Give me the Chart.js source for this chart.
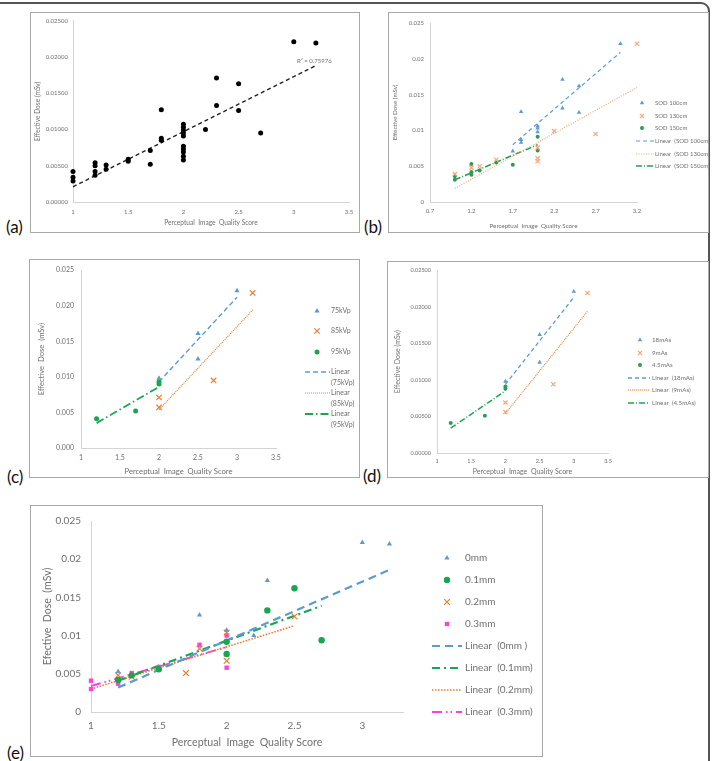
<!DOCTYPE html>
<html>
<head>
<meta charset="utf-8">
<script src="https://cdn.jsdelivr.net/npm/chart.js@4.4.1/dist/chart.umd.min.js"></script>
<style>
  html, body { margin: 0; padding: 0; background: #fff; }
  body { width: 720px; height: 761px; position: relative; overflow: hidden; font-family: Lato, "Open Sans", sans-serif; }
  #frame { position: absolute; left: -12px; top: 2px; width: 718px; height: 800px; border: 2px solid #555; border-radius: 9px; }
  .box { position: absolute; outline: 1px solid #a9a9a9; outline-offset: -1px; }
  .box canvas { position: absolute; left: 0; top: 0; }
  .tag { position: absolute; font-size: 17px; color: #111; line-height: 1; }
</style>
</head>
<body>
<div id="frame"></div>

<div class="box" style="left:30px;top:12px;width:330px;height:221px"><canvas id="cA" width="330" height="221"></canvas></div>
<div class="box" style="left:388px;top:12px;width:321px;height:221px"><canvas id="cB" width="321" height="221"></canvas></div>
<div class="box" style="left:29px;top:259px;width:331px;height:219px"><canvas id="cC" width="331" height="219"></canvas></div>
<div class="box" style="left:387px;top:261px;width:322px;height:217px"><canvas id="cD" width="322" height="217"></canvas></div>
<div class="box" style="left:30px;top:505px;width:513px;height:252px"><canvas id="cE" width="513" height="252"></canvas></div>

<div class="tag" style="left:6px;top:218px">(a)</div>
<div class="tag" style="left:364px;top:218px">(b)</div>
<div class="tag" style="left:7px;top:468px">(c)</div>
<div class="tag" style="left:363px;top:467px">(d)</div>
<div class="tag" style="left:7px;top:744px">(e)</div>

<script>
// ---------- colours / fonts ----------
const FONT = 'Lato, "Open Sans", sans-serif';
const TXT = '#6f6f6f';
const AXIS = '#d4d4d4';
const BLUE = '#5b9bd5';
const ORANGE = '#ed7d31';
const GREEN = '#19a651';
const DGREEN = '#2f9a55';
const PINK = '#ff3fe0';

// ---------- data: (a) all readings ----------
const A_X = [1, 1, 1, 1.2, 1.2, 1.2, 1.2, 1.3, 1.3, 1.5, 1.5, 1.7, 1.7, 1.8, 1.8, 1.8,
             2, 2, 2, 2, 2, 2, 2, 2, 2, 2, 2.2, 2.3, 2.3, 2.5, 2.5, 2.7, 3, 3.2];
const A_Y = [0.0042, 0.0034, 0.0029, 0.0054, 0.0050, 0.0042, 0.0037, 0.0051, 0.0045, 0.0059, 0.0056,
             0.0071, 0.0052, 0.0127, 0.0088, 0.0085,
             0.0107, 0.0103, 0.0099, 0.0095, 0.0091, 0.0077, 0.0073, 0.0069, 0.0063, 0.0058,
             0.0100, 0.0171, 0.0133, 0.0163, 0.0126, 0.0095, 0.0221, 0.0219];
const A_FIT_X = [1, 3.2];
const A_FIT_Y = [0.0021, 0.0188];
const A_XTICKS = [1, 1.5, 2, 2.5, 3, 3.5];
const A_YTICKS = [0, 0.005, 0.01, 0.015, 0.02, 0.025];
const A_YLABELS = ['0.00000', '0.00500', '0.01000', '0.01500', '0.02000', '0.02500'];

// ---------- data: (b) by SOD ----------
const B_100_X = [1.7, 1.8, 1.8, 1.8, 2, 2, 2, 2.3, 2.3, 2.5, 2.5, 3];
const B_100_Y = [0.0071, 0.0087, 0.0083, 0.0126, 0.0106, 0.0103, 0.0098, 0.0171, 0.0131, 0.0162, 0.0125, 0.0221];
const B_130_X = [1, 1.2, 1.3, 1.5, 2, 2, 2, 2.2, 2.7, 3.2];
const B_130_Y = [0.0039, 0.0048, 0.0050, 0.0059, 0.0076, 0.0061, 0.0057, 0.0099, 0.0095, 0.0221];
const B_150_X = [1, 1, 1.2, 1.2, 1.2, 1.3, 1.5, 1.7, 2, 2];
const B_150_Y = [0.0036, 0.0031, 0.0053, 0.0042, 0.0038, 0.0044, 0.0055, 0.0052, 0.0091, 0.0072];
const B_FIT100_X = [1.7, 3], B_FIT100_Y = [0.0080, 0.0209];
const B_FIT130_X = [1, 3.2], B_FIT130_Y = [0.0019, 0.0160];
const B_FIT150_X = [1, 2],   B_FIT150_Y = [0.0031, 0.0080];
const B_XTICKS = [0.7, 1.2, 1.7, 2.2, 2.7, 3.2];
const B_XLABELS = ['0.7', '1.2', '1.7', '2.2', '2.7', '3.2'];
const B_YLABELS = ['0', '0.005', '0.01', '0.015', '0.02', '0.025'];

// ---------- data: (c) by kVp ----------
const C_75_X = [2, 2.5, 2.5, 3],   C_75_Y = [0.0098, 0.0161, 0.0125, 0.0221];
const C_85_X = [2, 2, 2.7, 3.2],   C_85_Y = [0.0071, 0.0057, 0.0095, 0.0218];
const C_95_X = [1.2, 1.7, 2, 2],   C_95_Y = [0.0041, 0.0052, 0.0093, 0.0090];
const C_FIT75_X = [2, 3],   C_FIT75_Y = [0.0093, 0.0212];
const C_FIT85_X = [2, 3.2], C_FIT85_Y = [0.0054, 0.0194];
const C_FIT95_X = [1.2, 2], C_FIT95_Y = [0.0035, 0.0086];
const C_YLABELS = ['0.000', '0.005', '0.010', '0.015', '0.020', '0.025'];

// ---------- data: (d) by mAs ----------
const D_18_X = [2, 2.5, 2.5, 3],   D_18_Y = [0.0098, 0.0162, 0.0124, 0.0221];
const D_9_X = [2, 2, 2.7, 3.2],    D_9_Y = [0.0069, 0.0056, 0.0094, 0.0219];
const D_45_X = [1.2, 1.7, 2, 2],   D_45_Y = [0.0041, 0.0051, 0.0091, 0.0088];
const D_FIT18_X = [2, 3],   D_FIT18_Y = [0.0094, 0.0213];
const D_FIT9_X = [2, 3.2],  D_FIT9_Y = [0.0054, 0.0194];
const D_FIT45_X = [1.2, 2], D_FIT45_Y = [0.0034, 0.0085];

// ---------- data: (e) by filtration ----------
const E_0_X = [1.2, 1.8, 2, 2.2, 2.3, 3, 3.2];
const E_0_Y = [0.0053, 0.0127, 0.0107, 0.0100, 0.0172, 0.0222, 0.0220];
const E_1_X = [1.2, 1.3, 1.5, 2, 2, 2.3, 2.5, 2.7];
const E_1_Y = [0.0042, 0.0048, 0.0056, 0.0092, 0.0076, 0.0133, 0.0162, 0.0094];
const E_2_X = [1.2, 1.3, 1.7, 1.8, 2, 2, 2.5];
const E_2_Y = [0.0048, 0.0046, 0.0051, 0.0083, 0.0104, 0.0067, 0.0125];
const E_3_X = [1, 1, 1.2, 1.3, 1.5, 1.8, 2, 2];
const E_3_Y = [0.0041, 0.0030, 0.0037, 0.0051, 0.0059, 0.0088, 0.0100, 0.0058];
const E_FIT0_X = [1.2, 3.2], E_FIT0_Y = [0.0032, 0.0186];
const E_FIT1_X = [1.2, 2.7], E_FIT1_Y = [0.0041, 0.0139];
const E_FIT2_X = [1, 2.5],   E_FIT2_Y = [0.0030, 0.0113];
const E_FIT3_X = [1, 2],     E_FIT3_Y = [0.0034, 0.0085];
const E_XTICKS = [1, 1.5, 2, 2.5, 3];

// ---------- helpers ----------
const el = (id) => document.getElementById(id);
const pts = (xs, ys) => xs.map((x, i) => ({ x, y: ys[i] }));

function dots(label, xs, ys, style, color, r) {
  const cross = style === 'crossRot';
  return {
    label, data: pts(xs, ys), pointStyle: style, pointRadius: r,
    backgroundColor: color, borderColor: color, borderWidth: cross ? 1.2 : 0, clip: false,
  };
}
function fit(label, xs, ys, color, dash, width) {
  return {
    label, data: pts(xs, ys), showLine: true, pointRadius: 0, borderColor: color,
    backgroundColor: color, borderWidth: width, borderDash: dash, fill: false, clip: false,
  };
}

function drawMarker(ctx, style, x, y, r, color) {
  ctx.fillStyle = color;
  ctx.strokeStyle = color;
  ctx.beginPath();
  if (style === 'triangle') {
    ctx.moveTo(x, y - r);
    ctx.lineTo(x + r * 0.866, y + r / 2);
    ctx.lineTo(x - r * 0.866, y + r / 2);
    ctx.closePath(); ctx.fill();
  } else if (style === 'crossRot') {
    const d = r * 0.7;
    ctx.lineWidth = 1.2;
    ctx.moveTo(x - d, y - d); ctx.lineTo(x + d, y + d);
    ctx.moveTo(x + d, y - d); ctx.lineTo(x - d, y + d);
    ctx.stroke();
  } else if (style === 'rect') {
    const s = r * 0.7;
    ctx.fillRect(x - s, y - s, 2 * s, 2 * s);
  } else {
    ctx.arc(x, y, r, 0, Math.PI * 2); ctx.fill();
  }
}

// legend + notes painted on the right of each panel
const sideLegend = {
  id: 'sideLegend',
  afterDraw(chart, args, o) {
    const ctx = chart.ctx;
    ctx.save();
    ctx.font = `${o.size}px ${FONT}`;
    ctx.textBaseline = 'middle';
    ctx.textAlign = 'left';
    if (o.ys) {
      chart.data.datasets.forEach((ds, k) => {
        const y = o.ys[k];
        if (ds.showLine) {
          ctx.strokeStyle = ds.borderColor;
          ctx.lineWidth = ds.borderWidth;
          ctx.setLineDash(ds.borderDash || []);
          ctx.beginPath(); ctx.moveTo(o.line[0], y); ctx.lineTo(o.line[1], y); ctx.stroke();
          ctx.setLineDash([]);
        } else {
          drawMarker(ctx, ds.pointStyle, o.markX, y, ds.pointRadius, ds.backgroundColor);
        }
        ctx.fillStyle = TXT;
        ds.label.split('\n').forEach((t, j) => ctx.fillText(t, o.textX, y + j * o.lh));
      });
    }
    (o.notes || []).forEach(n => { ctx.fillStyle = TXT; ctx.fillText(n.text, n.x, n.y); });
    ctx.restore();
  }
};

function panel(id, cfg) {
  const cv = el(id);
  const W = cv.width, H = cv.height, a = cfg.area;
  const lhX = cfg.titleSize * 1.2;
  return new Chart(cv, {
    type: 'scatter',
    data: { datasets: cfg.datasets },
    options: {
      responsive: false,
      animation: false,
      layout: { padding: { left: 0, top: a.t, right: W - a.r, bottom: 0 } },
      plugins: {
        legend: { display: false },
        tooltip: { enabled: false },
        sideLegend: cfg.legend,
      },
      scales: {
        x: {
          type: 'linear', min: cfg.x[0], max: cfg.x[1],
          afterBuildTicks: s => { s.ticks = cfg.xTicks.map(v => ({ value: v })); },
          afterFit: s => { s.height = H - a.b; },
          grid: { display: false, drawTicks: false },
          border: { display: true, color: AXIS, width: 1 },
          ticks: {
            autoSkip: false, maxRotation: 0, padding: cfg.xPad, color: TXT,
            font: { family: FONT, size: cfg.tickSize },
            callback: (v, i) => cfg.xLabels[i],
          },
          title: {
            display: true, text: 'Perceptual  Image  Quality Score', color: TXT,
            font: { family: FONT, size: cfg.titleSize },
            padding: { top: 0, bottom: H - cfg.xTitleY - lhX / 2 },
          },
        },
        y: {
          type: 'linear', min: 0, max: 0.025,
          afterBuildTicks: s => { s.ticks = A_YTICKS.map(v => ({ value: v })); },
          afterFit: s => { s.width = a.l; },
          grid: { display: false, drawTicks: false },
          border: { display: true, color: AXIS, width: 1 },
          ticks: {
            autoSkip: false, padding: cfg.yPad, color: TXT,
            font: { family: FONT, size: cfg.tickSize },
            callback: (v, i) => cfg.yLabels[i],
          },
          title: {
            display: true, text: cfg.yTitle, color: TXT,
            font: { family: FONT, size: cfg.titleSize },
            padding: { top: cfg.yTitleX - lhX / 2, bottom: 0 },
          },
        },
      },
    },
    plugins: [sideLegend],
  });
}

const X_LABELS_STD = ['1', '1.5', '2', '2.5', '3', '3.5'];

// (a)
panel('cA', {
  area: { l: 43, r: 319, t: 8, b: 190 },
  x: [1, 3.5], xTicks: A_XTICKS, xLabels: X_LABELS_STD, yLabels: A_YLABELS,
  tickSize: 6, titleSize: 6.6, xPad: 6, yPad: 5, xTitleY: 211, yTitleX: 8,
  yTitle: 'Effective Dose (mSv)',
  datasets: [
    dots('all', A_X, A_Y, 'circle', '#000', 2.5),
    fit('trend', A_FIT_X, A_FIT_Y, '#222', [4, 3], 1.4),
  ],
  legend: { size: 6, notes: [{ text: 'R\u00b2 = 0.75976', x: 267, y: 49 }] },
});

// (b)
panel('cB', {
  area: { l: 42, r: 249, t: 11, b: 190 },
  x: [0.7, 3.2], xTicks: B_XTICKS, xLabels: B_XLABELS, yLabels: B_YLABELS,
  tickSize: 6, titleSize: 6.2, xPad: 5, yPad: 6, xTitleY: 214, yTitleX: 7,
  yTitle: 'Effective Dose (mSv)',
  datasets: [
    dots('SOD 100cm', B_100_X, B_100_Y, 'triangle', BLUE, 2.6),
    dots('SOD 130cm', B_130_X, B_130_Y, 'crossRot', '#f4a77a', 3),
    dots('SOD 150cm', B_150_X, B_150_Y, 'circle', DGREEN, 2),
    fit('Linear  (SOD 100cm)', B_FIT100_X, B_FIT100_Y, BLUE, [4, 3], 1.2),
    fit('Linear  (SOD 130cm)', B_FIT130_X, B_FIT130_Y, '#f4a77a', [1, 1.5], 1.2),
    fit('Linear  (SOD 150cm)', B_FIT150_X, B_FIT150_Y, DGREEN, [6, 2, 1, 2], 1.6),
  ],
  legend: { size: 6, ys: [91, 104, 116, 129, 142, 154], markX: 254, textX: 267, line: [248, 266], lh: 8 },
});

// (c)
panel('cC', {
  area: { l: 52, r: 247, t: 7, b: 189 },
  x: [1, 3.5], xTicks: A_XTICKS, xLabels: X_LABELS_STD, yLabels: C_YLABELS,
  tickSize: 7, titleSize: 7.6, xPad: 6, yPad: 7, xTitleY: 213, yTitleX: 13,
  yTitle: 'Effective  Dose  (mSv)',
  datasets: [
    dots('75kVp', C_75_X, C_75_Y, 'triangle', BLUE, 3),
    dots('85kVp', C_85_X, C_85_Y, 'crossRot', ORANGE, 3.8),
    dots('95kVp', C_95_X, C_95_Y, 'circle', GREEN, 2.5),
    fit('Linear\n(75kVp)', C_FIT75_X, C_FIT75_Y, BLUE, [5, 3], 1.4),
    fit('Linear\n(85kVp)', C_FIT85_X, C_FIT85_Y, ORANGE, [1, 1], 1.2),
    fit('Linear\n(95kVp)', C_FIT95_X, C_FIT95_Y, GREEN, [8, 3, 1.5, 3], 1.8),
  ],
  legend: { size: 7, ys: [52, 72, 93, 113, 134, 155], markX: 288, textX: 302, line: [276, 301], lh: 10.5 },
});

// (d)
panel('cD', {
  area: { l: 50, r: 221, t: 6, b: 192 },
  x: [1, 3.5], xTicks: A_XTICKS, xLabels: X_LABELS_STD, yLabels: A_YLABELS,
  tickSize: 5.5, titleSize: 7, xPad: 4.5, yPad: 6, xTitleY: 211, yTitleX: 11,
  yTitle: 'Effective Dose (mSv)',
  datasets: [
    dots('18mAs', D_18_X, D_18_Y, 'triangle', BLUE, 2.6),
    dots('9mAs', D_9_X, D_9_Y, 'crossRot', '#f4a77a', 3),
    dots('4.5mAs', D_45_X, D_45_Y, 'circle', DGREEN, 2),
    fit('Linear  (18mAs)', D_FIT18_X, D_FIT18_Y, BLUE, [4, 3], 1.3),
    fit('Linear  (9mAs)', D_FIT9_X, D_FIT9_Y, ORANGE, [1, 1], 1.1),
    fit('Linear  (4.5mAs)', D_FIT45_X, D_FIT45_Y, GREEN, [6, 2, 1, 2], 1.5),
  ],
  legend: { size: 6.2, ys: [79, 92, 104, 117, 129, 142], markX: 253, textX: 265, line: [241, 263], lh: 8 },
});

// (e)
panel('cE', {
  area: { l: 61, r: 373, t: 15, b: 207 },
  x: [1, 3.3], xTicks: E_XTICKS, xLabels: X_LABELS_STD, yLabels: B_YLABELS,
  tickSize: 10, titleSize: 10.6, xPad: 8, yPad: 10, xTitleY: 238, yTitleX: 18,
  yTitle: 'Efective  Dose  (mSv)',
  datasets: [
    dots('0mm', E_0_X, E_0_Y, 'triangle', BLUE, 3),
    dots('0.1mm', E_1_X, E_1_Y, 'circle', GREEN, 3.2),
    dots('0.2mm', E_2_X, E_2_Y, 'crossRot', ORANGE, 4),
    dots('0.3mm', E_3_X, E_3_Y, 'rect', PINK, 3.1),
    fit('Linear  (0mm )', E_FIT0_X, E_FIT0_Y, BLUE, [8, 5], 2.2),
    fit('Linear  (0.1mm)', E_FIT1_X, E_FIT1_Y, GREEN, [8, 4, 2, 4], 2.2),
    fit('Linear  (0.2mm)', E_FIT2_X, E_FIT2_Y, ORANGE, [1.5, 1.5], 1.6),
    fit('Linear  (0.3mm)', E_FIT3_X, E_FIT3_Y, PINK, [10, 4, 1.5, 3, 1.5, 4], 2),
  ],
  legend: { size: 10, ys: [53, 75, 97, 119, 141, 163, 185, 207], markX: 417, textX: 435, line: [402, 432], lh: 12 },
});
</script>
</body>
</html>
